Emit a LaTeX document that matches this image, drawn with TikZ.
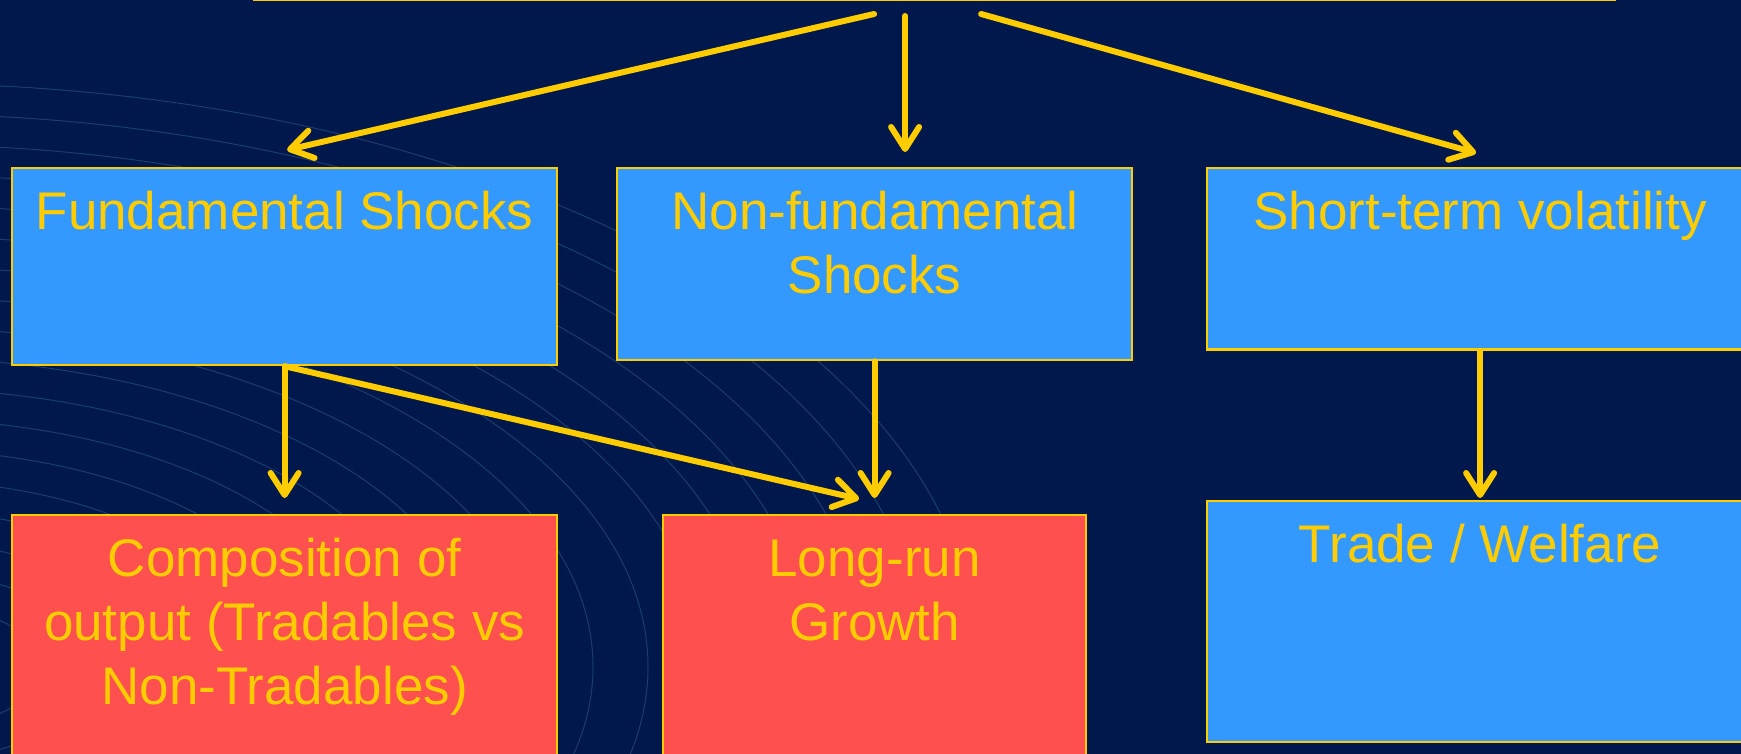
\documentclass[tikz,border=0pt]{standalone}
\usepackage{fontspec}
\setmainfont{Liberation Sans}
\usetikzlibrary{arrows.meta}
\definecolor{navy}{RGB}{0,24,76}
\definecolor{ripple}{RGB}{26,62,108}
\definecolor{skyblue}{RGB}{51,153,255}
\definecolor{salmon}{RGB}{255,80,80}
\definecolor{gold}{RGB}{255,204,0}

\begin{document}
\begin{tikzpicture}[
            x=0.5pt, y=-0.5pt,
            >={Straight Barb[length=11pt,width=14pt,round]},
            panel/.style={draw=gold, line width=1.1pt, anchor=north west, inner sep=0pt},
            paneltext/.style={anchor=north, inner sep=0pt, align=center, text=gold, font=\fontsize{26.5}{32}\selectfont},
            link/.style={->, draw=gold, line width=3pt, line cap=round}
        ]
            \useasboundingbox (0,0) rectangle (1741,754);
            \clip (0,0) rectangle (1741,754);
            \fill[navy] (0,0) rectangle (1741,754);
            \foreach \t in {0,...,17} {
                \pgfmathsetmacro{\rx}{0.5*(1078-55*\t)}
                \pgfmathsetmacro{\ry}{0.5*(583.5-30.5*\t)}
                \draw[ripple, line width=0.5pt] (-100,667) ellipse [x radius=\rx pt, y radius=\ry pt];
            }

            \node[panel, fill=skyblue, anchor=south west, minimum width=680.5pt, minimum height=40pt] (title) at (253,1) {};
            \node[panel, fill=skyblue, minimum width=272.5pt, minimum height=98.5pt] (fund) at (11,167) {};
            \node[panel, fill=skyblue, minimum width=257.5pt, minimum height=96pt] (nonfund) at (616,167) {};
            \node[panel, fill=skyblue, minimum width=273pt, minimum height=90.75pt] (short) at (1206,167) {};
            \node[panel, fill=salmon, minimum width=272.5pt, minimum height=140pt] (comp) at (11,514) {};
            \node[panel, fill=salmon, minimum width=211.5pt, minimum height=140pt] (longrun) at (662,514) {};
            \node[panel, fill=skyblue, minimum width=273pt, minimum height=120.5pt] (trade) at (1206,500) {};

            \node[paneltext] (fundtext) at ([yshift=-8.6pt]fund.north) {\strut Fundamental Shocks};
            \node[paneltext] (nonfundtext) at ([yshift=-8.6pt]nonfund.north) {\strut Non-fundamental\\Shocks};
            \node[paneltext] (shorttext) at ([yshift=-8.6pt]short.north) {\strut Short-term volatility};
            \node[paneltext] (comptext) at ([yshift=-8.6pt]comp.north) {\strut Composition of\\output (Tradables vs\\Non-Tradables)};
            \node[paneltext] (longruntext) at ([yshift=-8.6pt]longrun.north) {\strut Long-run\\Growth};
            \node[paneltext] (tradetext) at ([yshift=-8.6pt]trade.north) {\strut Trade / Welfare};

            \draw[link] ([xshift=-30.25pt,yshift=-6.5pt]title.south) -- ([xshift=1.25pt,yshift=8.5pt]fund.north);
            \draw[link] ([xshift=-14.75pt,yshift=-7.5pt]title.south) -- ([xshift=15.25pt,yshift=7.5pt]nonfund.north);
            \draw[link] ([xshift=23.25pt,yshift=-6.5pt]title.south) -- ([xshift=-2pt,yshift=7pt]short.north);
            \draw[link, shorten >=8pt] (fund.south) -- (comp.north);
            \draw[link] (fund.south) -- ([xshift=-7.75pt,yshift=7.5pt]longrun.north);
            \draw[link, shorten >=8pt] (nonfund.south) -- (longrun.north);
            \draw[link, shorten >=1pt] (short.south) -- (trade.north);
        \end{tikzpicture}
\end{document}
